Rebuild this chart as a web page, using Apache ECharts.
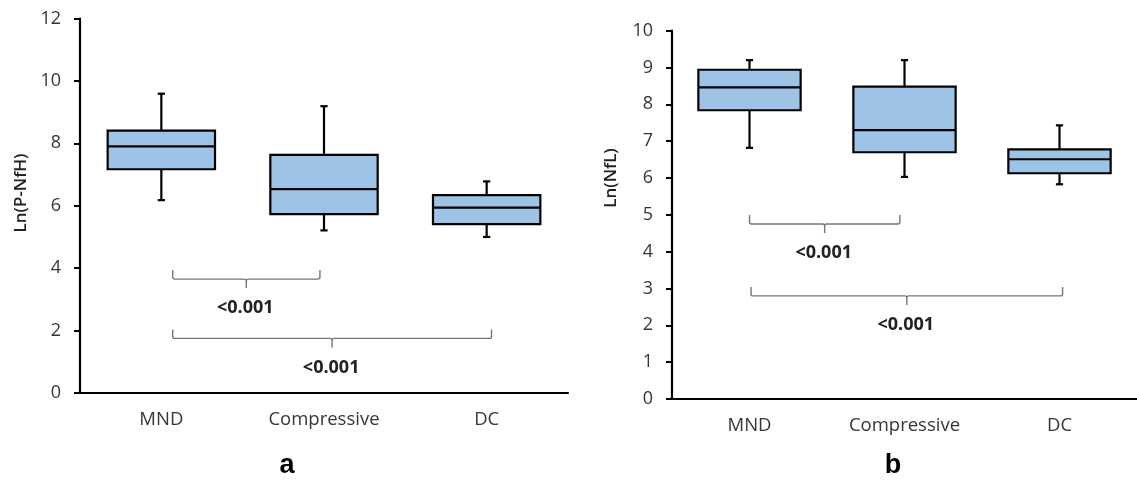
<!DOCTYPE html>
<html><head><meta charset="utf-8">
<script src="https://cdn.jsdelivr.net/npm/echarts@6/dist/echarts.min.js"></script>
<style>html,body{margin:0;padding:0;background:#fff}#c{width:1137px;height:480px}</style>
</head><body><div id="c"></div>
<script>
// ---------- data ----------
const categories = ['MND', 'Compressive', 'DC'];
// each row: [lower whisker, Q1, median, Q3, upper whisker]
const pnfhStats = [
  [6.18, 7.17, 7.90, 8.41, 9.59],
  [5.21, 5.73, 6.53, 7.63, 9.19],
  [5.00, 5.41, 5.94, 6.34, 6.78]
];
const nflStats = [
  [6.82, 7.84, 8.46, 8.94, 9.20],
  [6.03, 6.70, 7.30, 8.48, 9.20],
  [5.83, 6.13, 6.51, 6.78, 7.43]
];
const pnfhTicks = [0, 2, 4, 6, 8, 10, 12];
const nflTicks = [0, 1, 2, 3, 4, 5, 6, 7, 8, 9, 10];
// comparisons: [group A, group B, p-value]
const comparisonsA = [['MND', 'Compressive', '<0.001'], ['MND', 'DC', '<0.001']];
const comparisonsB = [['MND', 'Compressive', '<0.001'], ['MND', 'DC', '<0.001']];
const panelLabels = ['a', 'b'];
const yTitles = ['Ln(P-NfH)', 'Ln(NfL)'];

// ---------- layout / style ----------
const FONT = "'Open Sans', sans-serif";
const TXT = '#363636';
const BOX_FILL = '#9DC3E6';
const bracketLevelsA = [3.65, 1.75];
const bracketLevelsB = [4.75, 2.80];
const bracketOffsetsA = [[0.07, -0.025], [0.07, 0.03]];
const bracketOffsetsB = [[0.0, -0.03], [0.01, 0.02]];

function boxRender(params, api) {
  const i = api.value(0);
  const lo = api.coord([i, api.value(1)]);
  const q1 = api.coord([i, api.value(2)]);
  const md = api.coord([i, api.value(3)]);
  const q3 = api.coord([i, api.value(4)]);
  const hi = api.coord([i, api.value(5)]);
  const band = api.size([1, 0])[0];
  const w = band * 0.66;
  const x = lo[0];
  const cap = 3.6;
  const st = { stroke: '#000', lineWidth: 2.2, fill: null };
  return {
    type: 'group', children: [
      { type: 'line', shape: { x1: x, y1: hi[1], x2: x, y2: q3[1] }, style: st },
      { type: 'line', shape: { x1: x - cap, y1: hi[1], x2: x + cap, y2: hi[1] }, style: st },
      { type: 'line', shape: { x1: x, y1: q1[1], x2: x, y2: lo[1] }, style: st },
      { type: 'line', shape: { x1: x - cap, y1: lo[1], x2: x + cap, y2: lo[1] }, style: st },
      { type: 'rect', shape: { x: x - w / 2, y: q3[1], width: w, height: q1[1] - q3[1] },
        style: { fill: BOX_FILL, stroke: '#000', lineWidth: 2.2 } },
      { type: 'line', shape: { x1: x - w / 2, y1: md[1], x2: x + w / 2, y2: md[1] }, style: st }
    ]
  };
}

function makeBracketRender(offsets, labels) {
  return function (params, api) {
    const k = params.dataIndex;
    const a = api.value(0), b = api.value(1), lvl = api.value(2);
    const p1 = api.coord([a, lvl]);
    const p2 = api.coord([b, lvl]);
    const band = api.size([1, 0])[0];
    const x1 = p1[0] + offsets[k][0] * band;
    const x2 = p2[0] + offsets[k][1] * band;
    const y = p1[1];
    const xm = (x1 + x2) / 2;
    const h = 9, r = 2;
    const d = 'M' + x1 + ' ' + (y - h) + ' L' + x1 + ' ' + (y - r) +
      ' Q' + x1 + ' ' + y + ' ' + (x1 + r) + ' ' + y +
      ' L' + (xm - r) + ' ' + y + ' Q' + xm + ' ' + y + ' ' + xm + ' ' + (y + r) +
      ' L' + xm + ' ' + (y + h) +
      ' M' + xm + ' ' + (y + r) + ' Q' + xm + ' ' + y + ' ' + (xm + r) + ' ' + y +
      ' L' + (x2 - r) + ' ' + y + ' Q' + x2 + ' ' + y + ' ' + x2 + ' ' + (y - r) +
      ' L' + x2 + ' ' + (y - h);
    return {
      type: 'group', children: [
        { type: 'path', shape: { pathData: d }, style: { stroke: '#767676', lineWidth: 1.4, fill: null } },
        { type: 'text', style: { text: labels[k], x: xm - 1, y: y + 29, align: 'center', verticalAlign: 'middle',
          fontSize: 18, fontWeight: 'bold', fontFamily: FONT, fill: '#222' } }
      ]
    };
  };
}

function bracketData(comps, levels) {
  return comps.map((c, k) => [categories.indexOf(c[0]), categories.indexOf(c[1]), levels[k]]);
}

const grids = [
  { left: 80, top: 18.5, width: 488, height: 374.5 },
  { left: 672, top: 30.7, width: 474, height: 368.3 }
];

function xAx(gi) {
  return {
    type: 'category', gridIndex: gi, data: categories,
    axisLine: { show: true, lineStyle: { color: '#000', width: 2.2 } },
    axisTick: { show: false },
    axisLabel: { fontSize: 18.5, color: TXT, margin: 17, fontFamily: FONT }
  };
}
function yAx(gi, ticks) {
  return {
    type: 'value', gridIndex: gi, min: ticks[0], max: ticks[ticks.length - 1],
    interval: ticks[1] - ticks[0],
    axisLine: { show: true, lineStyle: { color: '#000', width: 2.2 } },
    axisTick: { show: true, inside: false, length: 6, lineStyle: { color: '#000', width: 2 } },
    splitLine: { show: false },
    axisLabel: { fontSize: 18, color: TXT, margin: 19, fontFamily: FONT }
  };
}

const chart = echarts.init(document.getElementById('c'), null, { renderer: 'canvas' });
chart.setOption({
  animation: false,
  backgroundColor: '#fff',
  grid: grids,
  xAxis: [xAx(0), xAx(1)],
  yAxis: [yAx(0, pnfhTicks), yAx(1, nflTicks)],
  series: [
    { type: 'custom', xAxisIndex: 0, yAxisIndex: 0, renderItem: boxRender,
      encode: { x: 0, y: [1, 2, 3, 4, 5] },
      data: pnfhStats.map((s, i) => [i].concat(s)) },
    { type: 'custom', xAxisIndex: 1, yAxisIndex: 1, renderItem: boxRender,
      encode: { x: 0, y: [1, 2, 3, 4, 5] },
      data: nflStats.map((s, i) => [i].concat(s)) },
    { type: 'custom', xAxisIndex: 0, yAxisIndex: 0,
      renderItem: makeBracketRender(bracketOffsetsA, comparisonsA.map(c => c[2])),
      encode: { x: [0, 1], y: 2 }, data: bracketData(comparisonsA, bracketLevelsA) },
    { type: 'custom', xAxisIndex: 1, yAxisIndex: 1,
      renderItem: makeBracketRender(bracketOffsetsB, comparisonsB.map(c => c[2])),
      encode: { x: [0, 1], y: 2 }, data: bracketData(comparisonsB, bracketLevelsB) }
  ],
  graphic: [
    { type: 'text', x: 21, y: 193, rotation: Math.PI / 2,
      style: { text: yTitles[0], align: 'center', verticalAlign: 'middle', fontSize: 17, fontWeight: 600, fontFamily: FONT, fill: '#222' } },
    { type: 'text', x: 611, y: 178, rotation: Math.PI / 2,
      style: { text: yTitles[1], align: 'center', verticalAlign: 'middle', fontSize: 17, fontWeight: 600, fontFamily: FONT, fill: '#222' } },
    { type: 'text', x: 287, y: 466,
      style: { text: panelLabels[0], align: 'center', verticalAlign: 'middle', fontSize: 27, fontWeight: 'bold', fontFamily: "'Liberation Sans', Arial, sans-serif", fill: '#000' } },
    { type: 'text', x: 893, y: 466,
      style: { text: panelLabels[1], align: 'center', verticalAlign: 'middle', fontSize: 27, fontWeight: 'bold', fontFamily: "'Liberation Sans', Arial, sans-serif", fill: '#000' } }
  ]
});
</script></body></html>
